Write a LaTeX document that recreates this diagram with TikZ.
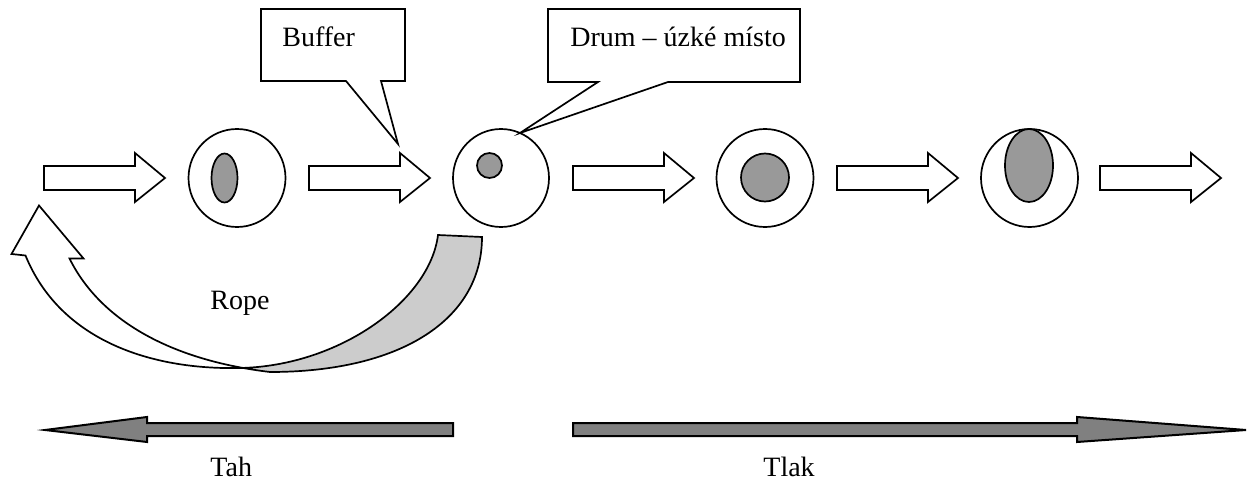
\documentclass[tikz,border=0pt]{standalone}
\usepackage{fontspec}
\setmainfont{Liberation Serif}
\definecolor{innergray}{HTML}{999999}
\definecolor{bargray}{HTML}{808080}
\definecolor{ropegray}{HTML}{CCCCCC}
\newcommand\myblockarrow[2]{%
  \draw[blockarr] (#2,166) -- ++(91,0) -- ++(0,-13) -- ++(30,25) -- ++(-30,24) -- ++(0,-12) -- ++(-91,0) -- cycle;
  \coordinate (#1) at (#2,178);}
\begin{document}
\begin{tikzpicture}[x=0.5pt,y=-0.5pt,
  outl/.style={line width=0.85pt, line join=miter},
  blockarr/.style={outl, fill=white},
  ring/.style={outl, fill=white},
  core/.style={outl, fill=innergray},
  callout/.style={outl, fill=white},
  bar/.style={line width=1pt, fill=bargray},
  lbl/.style={inner sep=0pt, anchor=base west, font=\fontsize{14}{16}\selectfont}]
\useasboundingbox (0,0) rectangle (1253,481);
% flow block arrows
\myblockarrow{a1}{44}
\myblockarrow{a2}{309}
\myblockarrow{a3}{573}
\myblockarrow{a4}{837}
\myblockarrow{a5}{1100}
% stations
\coordinate (c1) at (237,178);
\coordinate (c2) at (501,178);
\coordinate (c3) at (765,178);
\coordinate (c4) at (1029.5,178);
\draw[ring] (c1) ellipse [x radius=24.25pt, y radius=24.5pt];
\draw[ring] (c2) ellipse [x radius=24pt, y radius=24.5pt];
\draw[ring] (c3) ellipse [x radius=24.25pt, y radius=24.5pt];
\draw[ring] (c4) ellipse [x radius=24.25pt, y radius=24.5pt];
\draw[core] (224.5,178) ellipse [x radius=6.5pt, y radius=12.25pt];
\draw[core] (489.5,165.5) ellipse [x radius=6.25pt, y radius=6.25pt];
\draw[core] (765,177.5) ellipse [x radius=12pt, y radius=12pt];
\draw[core] (1029,165.5) ellipse [x radius=12pt, y radius=18.25pt];
% callouts
\coordinate (bt) at (398,144);
\coordinate (dt) at (520,133);
\draw[callout] (261,9) -- (405,9) -- (405,81) -- (381,81) -- (bt) -- (346,81) -- (261,81) -- cycle;
\draw[callout] (548,9) -- (800,9) -- (800,82) -- (668,82) -- (dt) -- (598,82) -- (548,82) -- cycle;
\node[lbl] (buffer) at (282,46.5) {Buffer};
\node[lbl] (drum) at (570,46.5) {Drum – úzké místo};
% rope curved arrow
\def\ropepath{(25.5,255.5) .. controls (60,340) and (150,370) .. (240,368) .. controls (340,366) and (430,300) .. (438,235) -- (482,237) .. controls (482,320) and (400,372) .. (270,372) .. controls (170,360) and (100,320) .. (69.5,258.5) -- (83.5,258.5) -- (39,205.5) -- (11.5,254) -- cycle}
\fill[ropegray] \ropepath;
\begin{scope}
  \clip (0,190) rectangle (233,400);
  \fill[white] \ropepath;
\end{scope}
\draw[outl] \ropepath;
\node[lbl] (rope) at (210,309) {Rope};
% bottom bars
\draw[bar] (453,423) -- (147,423) -- (147,417) -- (45,430) -- (147,442) -- (147,436) -- (453,436) -- cycle;
\draw[bar] (573,423) -- (1077,423) -- (1077,417) -- (1246,430) -- (1077,442) -- (1077,436) -- (573,436) -- cycle;
\node[lbl] (tah) at (210,476) {Tah};
\node[lbl] (tlak) at (763,476) {Tlak};
\end{tikzpicture}
\end{document}
